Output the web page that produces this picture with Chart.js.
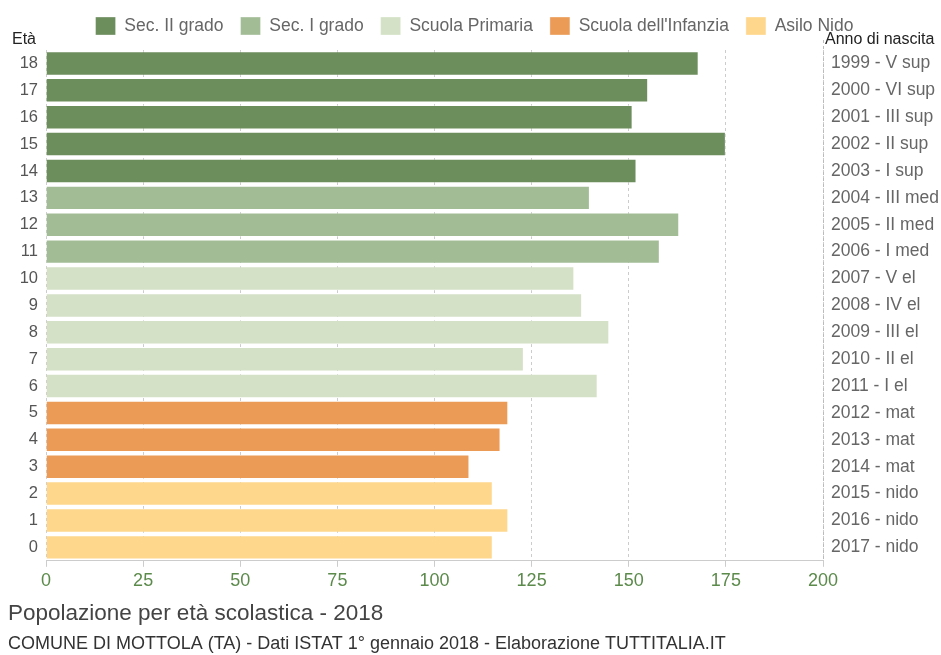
<!DOCTYPE html>
<html>
<head>
<meta charset="utf-8">
<script src="https://cdn.jsdelivr.net/npm/chart.js@4"></script>
<style>
  html, body { margin: 0; padding: 0; background: #fff; }
  #wrap { width: 941px; height: 655px; }
</style>
</head>
<body>
<div id="wrap"><canvas id="chart"></canvas></div>
<script>
// Ages top to bottom, with the matching birth year / class on the right.
const ages = ["18", "17", "16", "15", "14", "13", "12", "11", "10", "9", "8", "7", "6", "5", "4", "3", "2", "1", "0"];
const birthLabels = ["1999 - V sup", "2000 - VI sup", "2001 - III sup", "2002 - II sup", "2003 - I sup",
  "2004 - III med", "2005 - II med", "2006 - I med",
  "2007 - V el", "2008 - IV el", "2009 - III el", "2010 - II el", "2011 - I el",
  "2012 - mat", "2013 - mat", "2014 - mat",
  "2015 - nido", "2016 - nido", "2017 - nido"];
const population = [168, 155, 151, 175, 152, 140, 163, 158, 136, 138, 145, 123, 142, 119, 117, 109, 115, 119, 115];
// school level of each row (index into levels)
const levelOfRow = [0, 0, 0, 0, 0, 1, 1, 1, 2, 2, 2, 2, 2, 3, 3, 3, 4, 4, 4];
const levels = ["Sec. II grado", "Sec. I grado", "Scuola Primaria", "Scuola dell'Infanzia", "Asilo Nido"];
const levelColors = ["#6c8d5c", "#a2bd96", "#d4e1c6", "#eb9b55", "#fed68c"];
const xTicks = [0, 25, 50, 75, 100, 125, 150, 175, 200];

const FONT = "'Liberation Sans', Arial, sans-serif";

const datasets = levels.map((name, li) => ({
  label: name,
  data: population.map((v, i) => levelOfRow[i] === li ? v : null),
  backgroundColor: levelColors[li],
  borderColor: "rgba(255,255,255,0.35)",
  borderWidth: 1,
  barPercentage: 0.91,
  categoryPercentage: 1.0,
  yAxisID: "y"
}));

// a bit more room under the legend for the axis headers
const legendGap = {
  id: "legendGap",
  beforeInit(chart) {
    const fit = chart.legend.fit;
    chart.legend.fit = function () { fit.call(this); this.height += 5; };
  }
};

// "Età" and "Anno di nascita" headers above the two category axes
const headers = {
  id: "headers",
  afterDraw(chart) {
    const { ctx, chartArea } = chart;
    ctx.save();
    ctx.font = "16px " + FONT;
    ctx.fillStyle = "#222";
    ctx.textBaseline = "bottom";
    ctx.textAlign = "left";
    ctx.fillText("Età", 12, chartArea.top - 2);
    ctx.fillText("Anno di nascita", chartArea.right + 2, chartArea.top - 2);
    // dashed divider at the right edge, reaching up to the header
    ctx.strokeStyle = "#bbbbbb";
    ctx.setLineDash([3, 3]);
    ctx.beginPath();
    ctx.moveTo(chartArea.right + 0.5, chartArea.top - 10);
    ctx.lineTo(chartArea.right + 0.5, chartArea.bottom);
    ctx.stroke();
    ctx.restore();
  }
};

new Chart(document.getElementById("chart"), {
  type: "bar",
  data: { labels: ages, datasets },
  plugins: [legendGap, headers],
  options: {
    indexAxis: "y",
    responsive: true,
    maintainAspectRatio: false,
    animation: false,
    layout: { padding: { left: 8, right: 0, top: 0, bottom: 0 } },
    scales: {
      x: {
        stacked: true,
        min: 0, max: 200,
        z: 1,
        afterBuildTicks: s => { s.ticks = xTicks.map(v => ({ value: v })); },
        border: { display: true, color: "#cccccc", dash: [3, 3] },
        grid: { color: "rgba(0,0,0,0.2)", tickLength: 6, tickColor: "#cccccc", tickBorderDash: [] },
        ticks: { color: "#5b8a4b", font: { family: FONT, size: 18 }, padding: 3 }
      },
      y: {
        stacked: true,
        position: "left",
        afterFit: s => { s.width = 38; },
        grid: { display: false, drawTicks: false },
        border: { display: false },
        ticks: { color: "#555", font: { family: FONT, size: 16.5 }, padding: 8 }
      },
      y2: {
        type: "category",
        labels: birthLabels,
        position: "right",
        offset: true,
        afterFit: s => { s.width = 118; },
        grid: { display: false, drawTicks: false },
        border: { display: false },
        ticks: { color: "#666", font: { family: FONT, size: 17.5 }, padding: 8 }
      }
    },
    plugins: {
      legend: {
        position: "top",
        labels: {
          boxWidth: 20, boxHeight: 18, padding: 17,
          color: "#666", font: { family: FONT, size: 17.5 }
        }
      },
      title: {
        display: true,
        text: "Popolazione per età scolastica - 2018",
        position: "bottom", align: "start", weight: 1500,
        color: "#444", font: { family: FONT, size: 22.5, weight: "normal" },
        padding: { top: 6, bottom: 6 }
      },
      subtitle: {
        display: true,
        text: "COMUNE DI MOTTOLA (TA) - Dati ISTAT 1° gennaio 2018 - Elaborazione TUTTITALIA.IT",
        position: "bottom", align: "start", weight: 2000,
        color: "#333", font: { family: FONT, size: 18 },
        padding: { top: 0, bottom: 0 }
      },
      tooltip: { enabled: false }
    }
  }
});
</script>
</body>
</html>
